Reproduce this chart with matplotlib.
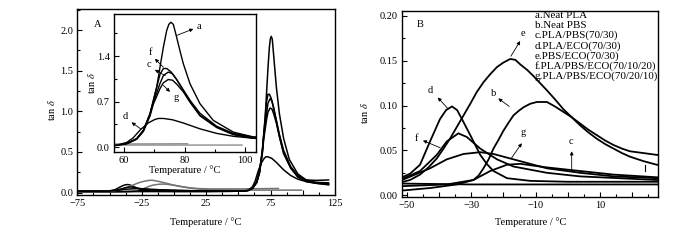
import matplotlib
matplotlib.use('Agg')
import matplotlib.pyplot as plt
from matplotlib.ticker import MultipleLocator, FuncFormatter, FormatStrFormatter

plt.rcParams['font.family'] = ['Liberation Serif', 'DejaVu Serif']
plt.rcParams['mathtext.fontset'] = 'stix'
plt.rcParams['font.size'] = 7.5
plt.rcParams['axes.linewidth'] = 1.0

# tan delta curves (temperature in C)
temp_a = [-75, -52, -30, 0, 28, 45, 55, 57.6, 60.9, 64.2, 66.4, 68.6, 69.7, 70.8, 71.9, 73.0,
          74.1, 74.8, 75.5, 76.3, 77.4, 78.5, 79.6, 81.8, 85.1, 89.5, 96.1, 102.7, 110, 120]
tan_a = [0.014, 0.013, 0.012, 0.012, 0.012, 0.015, 0.02, 0.026, 0.052, 0.129, 0.257, 0.514, 0.718,
         0.923, 1.231, 1.538, 1.795, 1.89, 1.923, 1.89, 1.69, 1.48, 1.283, 0.975, 0.667, 0.41, 0.23,
         0.154, 0.125, 0.11]

temp_b = [-75, -52.1, -42.8, -34.5, -29.3, -27.7, -26.2, -24.6, -23.1, -21.5, -20.0, -18.4, -16.9,
          -15.3, -13.8, -11.7, -9.6, -6.5, -4.0, -1.4, 1.2, 3.8, 6.4, 9.0, 11.6, 14.2, 16.8, 19.3,
          23.5, 27.6, 50, 81]
tan_b = [0.006, 0.005, 0.008, 0.012, 0.017, 0.022, 0.030, 0.040, 0.052, 0.062, 0.072, 0.081, 0.089,
         0.094, 0.098, 0.102, 0.104, 0.104, 0.099, 0.093, 0.087, 0.080, 0.073, 0.067, 0.061, 0.056,
         0.052, 0.049, 0.047, 0.045, 0.045, 0.05]

temp_c = [-75, -52.1, -37.6, -29.3, -24.1, -18.9, -14.8, -6.5, 3.8, 14.2, 27.6, 45, 55, 57.6, 60.9,
          64.2, 66.4, 68.6, 69.7, 71.9, 73.0, 74.6, 76.0, 77.4, 79.6, 81.8, 85.1, 90.6, 96.1, 102.7,
          110, 120]
tan_c = [0.010, 0.010, 0.012, 0.017, 0.027, 0.034, 0.035, 0.031, 0.027, 0.023, 0.020, 0.02, 0.022,
         0.026, 0.05, 0.125, 0.25, 0.50, 0.69, 0.98, 1.10, 1.155, 1.13, 1.04, 0.87, 0.70, 0.49, 0.31,
         0.20, 0.14, 0.125, 0.12]

temp_d = [-75, -52.1, -49.0, -45.9, -42.8, -39.7, -37.8, -36.0, -34.4, -32.9, -30.3, -27.2, -25.2,
          -23.1, -18.9, -11.7, 0, 27.6, 45, 55, 57.6, 60.9, 63.0, 65.5, 68.0, 70.0, 71.3, 73.0, 76.0,
          79.6, 85.1, 90.6, 96.1, 102.7, 110, 120]
tan_d = [0.019, 0.019, 0.024, 0.034, 0.060, 0.085, 0.095, 0.099, 0.095, 0.085, 0.067, 0.045, 0.035,
         0.027, 0.019, 0.016, 0.015, 0.015, 0.016, 0.02, 0.03, 0.07, 0.14, 0.27, 0.37, 0.42, 0.44,
         0.44, 0.42, 0.37, 0.28, 0.21, 0.165, 0.135, 0.115, 0.095]

temp_e = [-75, -52.1, -49.0, -45.9, -43.3, -40.7, -38.6, -36.6, -34.5, -32.4, -30.3, -28.3, -26.2,
          -24.1, -22.0, -20.0, -17.9, -16.3, -14.8, -12.7, -10.7, -8.6, -6.5, -4.0, -1.4, 1.2, 3.8,
          6.4, 9.0, 11.6, 14.2, 16.8, 19.3, 23.5, 27.6, 60, 99]
tan_e = [0.014, 0.014, 0.017, 0.023, 0.031, 0.041, 0.052, 0.063, 0.076, 0.089, 0.102, 0.115, 0.126,
         0.135, 0.143, 0.148, 0.152, 0.151, 0.146, 0.140, 0.133, 0.125, 0.117, 0.107, 0.096, 0.087,
         0.078, 0.070, 0.063, 0.057, 0.052, 0.047, 0.043, 0.038, 0.034, 0.03, 0.03]

temp_f = [-75, -52.1, -45.9, -40.7, -37.6, -34.0, -31.4, -27.2, -22.0, -16.9, -6.5, 3.8, 27.6, 45,
          55, 57.6, 60.9, 64.2, 66.4, 68.6, 69.7, 70.8, 71.9, 73.0, 74.1, 75.5, 77.4, 79.6, 81.8,
          85.1, 90.6, 96.1, 102.7, 110, 120]
tan_f = [0.017, 0.017, 0.027, 0.045, 0.060, 0.069, 0.065, 0.052, 0.040, 0.032, 0.025, 0.021, 0.017,
         0.018, 0.021, 0.026, 0.052, 0.129, 0.257, 0.514, 0.718, 0.92, 1.12, 1.21, 1.21, 1.16, 1.04,
         0.88, 0.72, 0.52, 0.32, 0.21, 0.155, 0.15, 0.155]

temp_g = [-75, -52.1, -42.8, -37.6, -32.4, -27.2, -23.1, -16.9, -6.5, 3.8, 14.2, 27.6, 45, 55,
          57.6, 60.9, 64.2, 66.4, 68.6, 69.7, 71.9, 73.0, 74.6, 76.0, 77.4, 79.6, 81.8, 85.1, 90.6,
          96.1, 102.7, 110, 120]
tan_g = [0.016, 0.016, 0.030, 0.040, 0.046, 0.048, 0.046, 0.040, 0.030, 0.025, 0.021, 0.019, 0.018,
         0.021, 0.026, 0.05, 0.12, 0.24, 0.48, 0.66, 0.90, 0.99, 1.04, 1.03, 0.97, 0.85, 0.69, 0.48,
         0.30, 0.19, 0.135, 0.115, 0.10]

sample_names = ['a.Neat PLA', 'b.Neat PBS', 'c.PLA/PBS(70/30)', 'd.PLA/ECO(70/30)',
                'e.PBS/ECO(70/30)', 'f.PLA/PBS/ECO(70/10/20)', 'g.PLA/PBS/ECO(70/20/10)']

curves = {'a': (temp_a, tan_a), 'b': (temp_b, tan_b), 'c': (temp_c, tan_c), 'd': (temp_d, tan_d),
          'e': (temp_e, tan_e), 'f': (temp_f, tan_f), 'g': (temp_g, tan_g)}
pbs_like = ['b', 'e']  # drawn grey in panel A

# (letter, text pos, arrow head, arrow tail)
inset_notes = [('a', (84.9, 1.86), (82.9, 1.82), (77.4, 1.72)),
               ('f', (68.8, 1.45), (70.2, 1.36), (73.0, 1.23)),
               ('c', (68.4, 1.27), (70.2, 1.19), (73.6, 1.10)),
               ('g', (77.2, 0.76), (75.2, 0.85), (73.0, 0.95)),
               ('d', (60.3, 0.47), (62.5, 0.38), (65.5, 0.28))]
b_notes = [('e', (-13.8, 0.180), (-14.8, 0.172), (-17.7, 0.155)),
           ('d', (-42.8, 0.117), (-40.4, 0.109), (-37.1, 0.096)),
           ('b', (-23.1, 0.113), (-21.6, 0.108), (-18.2, 0.099)),
           ('f', (-47.1, 0.063), (-45.0, 0.061), (-39.7, 0.053)),
           ('g', (-13.8, 0.070), (-14.3, 0.058), (-17.6, 0.041)),
           ('c', (0.9, 0.060), (1.2, 0.049), (1.2, 0.027))]


def px(x, y, w, h):
    return [x / 700, 1 - (y + h) / 240, w / 700, h / 240]


def style(ax):
    ax.tick_params(which='both', direction='in', top=False, right=False, labelsize=7.5, pad=3)
    ax.tick_params(which='major', length=3.5, width=0.8)
    ax.tick_params(which='minor', length=2, width=0.8)


def note(ax, items):
    arrow = dict(arrowstyle='-|>', lw=0.6, color='k', mutation_scale=5, shrinkA=0, shrinkB=0)
    for lab, txt, head, tail in items:
        ax.text(txt[0], txt[1], lab, ha='center', va='center', fontsize=7.5)
        ax.annotate('', xy=head, xytext=tail, arrowprops=arrow)


fig = plt.figure(figsize=(7, 2.4), dpi=100)
axA = fig.add_axes(px(77.3, 9.3, 257.7, 185.7))
axI = fig.add_axes(px(114, 14, 142, 138))
axB = fig.add_axes(px(401.7, 11, 256.6, 186))

for k, (t, v) in curves.items():
    grey = k in pbs_like
    axA.plot(t, v, color='0.45' if grey else 'k', lw=1.1)
    axI.plot(t, v, color='0.55' if grey else 'k', lw=1.0)
    axB.plot(t, v, color='k', lw=1.3)

# panel A
axA.set_xlim(-75, 125)
axA.set_ylim(-0.03, 2.256)
axA.xaxis.set_major_locator(MultipleLocator(25))
axA.xaxis.set_minor_locator(MultipleLocator(12.5))
axA.xaxis.set_major_formatter(FuncFormatter(lambda v, p: f'{v:.0f}'.replace('-', '\u2212')
                                            if round(v + 75) % 50 == 0 else ''))
axA.yaxis.set_major_locator(MultipleLocator(0.5))
axA.yaxis.set_minor_locator(MultipleLocator(0.25))
axA.yaxis.set_major_formatter(FormatStrFormatter('%.1f'))
style(axA)
axA.text(-59.2, 2.07, 'A', ha='center', va='center', fontsize=7.5)

# inset
axI.set_xlim(56.7, 103.6)
axI.set_ylim(-0.077, 2.05)
axI.xaxis.set_major_locator(MultipleLocator(20))
axI.xaxis.set_minor_locator(MultipleLocator(10))
axI.yaxis.set_major_locator(MultipleLocator(0.7))
axI.yaxis.set_minor_locator(MultipleLocator(0.35))
axI.yaxis.set_major_formatter(FormatStrFormatter('%.1f'))
style(axI)
note(axI, inset_notes)

# panel B
axB.set_xlim(-51.6, 28.1)
axB.set_ylim(-0.002, 0.2055)
axB.xaxis.set_major_locator(MultipleLocator(10))
axB.xaxis.set_minor_locator(MultipleLocator(5))
axB.xaxis.set_major_formatter(FuncFormatter(lambda v, p: f'{v:.0f}'.replace('-', '\u2212')
                                            if round(v + 50) % 20 == 0 else ''))
axB.yaxis.set_major_locator(MultipleLocator(0.05))
axB.yaxis.set_minor_locator(MultipleLocator(0.025))
axB.yaxis.set_major_formatter(FormatStrFormatter('%.2f'))
style(axB)
axB.text(-45.9, 0.190, 'B', ha='center', va='center', fontsize=7.5)
note(axB, b_notes)
axB.plot([24.0, 24.0], [0.027, 0.034], color='k', lw=0.8)
for i, name in enumerate(sample_names):
    axB.text(0.519, 0.976 - 0.0542 * i, name, transform=axB.transAxes,
             ha='left', va='center', fontsize=7.9)

# axis titles
xlab = 'Temperature / \u00b0C'
ylab = r'tan $\delta$'
fig.text(206 / 700, 1 - 221.7 / 240, xlab, ha='center', va='center', fontsize=7.5)
fig.text(531 / 700, 1 - 221.7 / 240, xlab, ha='center', va='center', fontsize=7.5)
fig.text(185 / 700, 1 - 170 / 240, xlab, ha='center', va='center', fontsize=7.5)
fig.text(51.7 / 700, 1 - 110 / 240, ylab, ha='center', va='center', rotation=90, fontsize=7.5)
fig.text(91.7 / 700, 1 - 83 / 240, ylab, ha='center', va='center', rotation=90, fontsize=7.5)
fig.text(365 / 700, 1 - 113 / 240, ylab, ha='center', va='center', rotation=90, fontsize=7.5)

fig.savefig('out.png', dpi=100)
